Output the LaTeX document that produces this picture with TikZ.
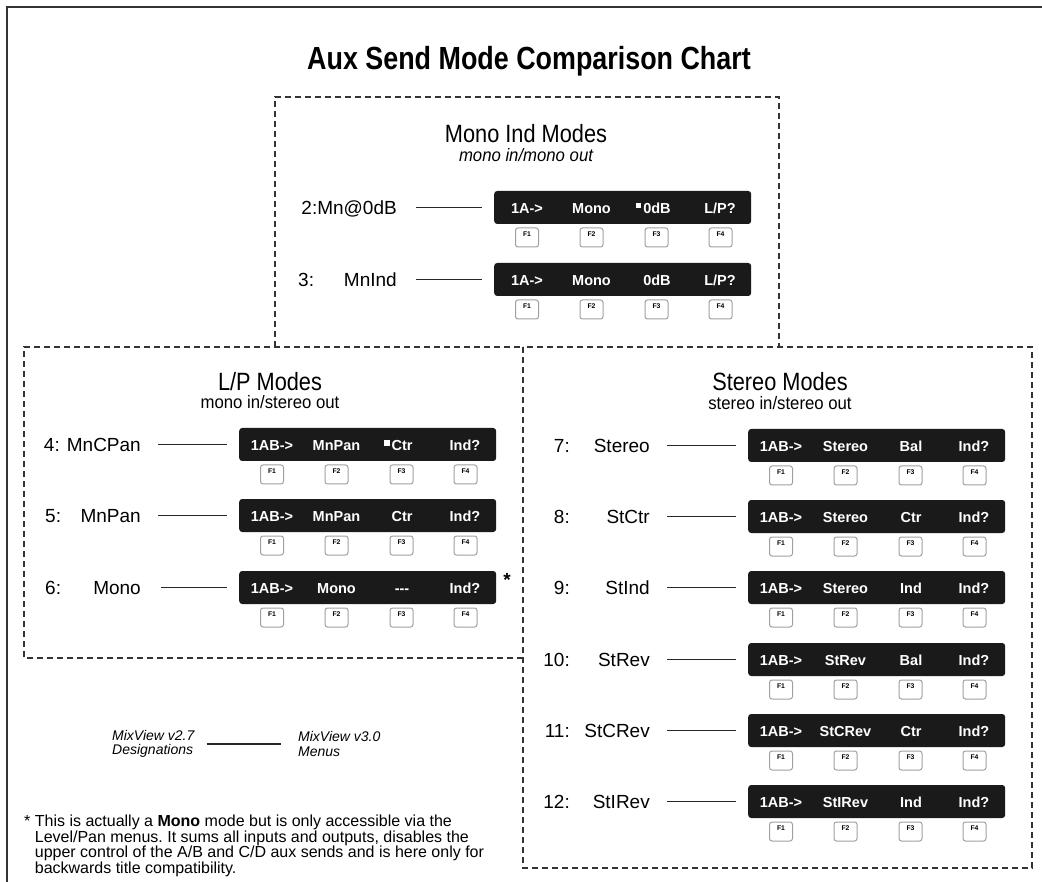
\documentclass[tikz,border=0pt]{standalone}
\usepackage{fontspec}
\setmainfont{Liberation Sans}
\newfontfamily\condfont[FakeStretch=0.87]{Liberation Sans}
\newfontfamily\subfont[FakeStretch=0.93]{Liberation Sans}
\newfontfamily\titlefont[FakeStretch=0.84]{Liberation Sans}
\definecolor{lcdblack}{HTML}{1A1A1A}
\definecolor{keygray}{HTML}{A0A0A0}
\definecolor{framegray}{HTML}{333333}
\tikzset{
  lcd/.style={fill=lcdblack, rounded corners=3pt, minimum width=257pt, minimum height=33pt, inner sep=0pt, anchor=west},
  lcdtxt/.style={text=white, font=\fontsize{14.5}{16}\selectfont\bfseries, inner sep=0pt, anchor=base},
  fkey/.style={draw=keygray, fill=white, rounded corners=2.5pt, line width=1pt, minimum width=23pt, minimum height=19pt, inner sep=0pt, text height=5pt, text depth=7.4pt, font=\fontsize{6.8}{7}\selectfont\bfseries},
  sqmark/.style={fill=white, minimum size=5.5pt, inner sep=0pt, anchor=north east},
  rowlab/.style={font=\fontsize{19}{22}\selectfont, inner sep=0pt},
  conn/.style={line width=1.1pt, draw=black!85},
  dashbox/.style={draw=framegray, line width=1.1pt, dash pattern=on 6pt off 4pt},
  secttl/.style={font=\condfont\fontsize{25}{28}\selectfont, inner sep=0pt, anchor=base},
  secsub/.style={font=\subfont\fontsize{18}{20}\selectfont, inner sep=0pt, anchor=base},
}
% #1 id, #2 bar left x, #3 row y, #4-#7 texts
\newcommand\lcdrow[7]{%
  \node[lcd] (#1) at (#2,{#3-0.5}) {};
  \node[lcdtxt] (#1a) at ({#2+33},{#3+5.2}) {#4};
  \node[lcdtxt] (#1b) at ({#2+97.5},{#3+5.2}) {#5};
  \node[lcdtxt] (#1c) at ({#2+163},{#3+5.2}) {#6};
  \node[lcdtxt] (#1d) at ({#2+226},{#3+5.2}) {#7};
  \node[fkey] (#1k1) at ({#2+33},{#3+29.5}) {F1};
  \node[fkey] (#1k2) at ({#2+97.5},{#3+29.5}) {F2};
  \node[fkey] (#1k3) at ({#2+162.5},{#3+29.5}) {F3};
  \node[fkey] (#1k4) at ({#2+226.5},{#3+29.5}) {F4};
}
\begin{document}
\begin{tikzpicture}[x=1pt,y=-1pt]
\useasboundingbox (0,0) rectangle (1042,882);
\fill[white] (0,0) rectangle (1042,882);
% page frame
\draw[framegray, line width=1.4pt] (7,882) -- (7,7) -- (1042,7);
% title
\node[font=\titlefont\bfseries\fontsize{32}{36}\selectfont, inner sep=0pt, anchor=base] (title) at (529,70) {Aux Send Mode Comparison Chart};

% boxes
\draw[dashbox] (275,347) -- (275,97) -- (779,97) -- (779,347);
\draw[dashbox] (523,658) -- (24,658) -- (24,347) -- (523,347);
\draw[dashbox] (523,347) rectangle (1032,868);

% ---------- Mono Ind ----------
\node[secttl] (tmono) at (526,143) {Mono Ind Modes};
\node[secsub] (smono) at (526,162) {\itshape mono in/mono out};

\lcdrow{r2}{494}{208}{1A->}{Mono}{0dB}{L/P?}
\node[sqmark] (q2) at ([xshift=-1.5pt]r2c.north west) {};
\node[rowlab, anchor=base east] (n2) at (397,214.8) {2:Mn@0dB};
\draw[conn, shorten <=19pt, shorten >=12pt] (n2.east |- r2.west) -- (r2.west);

\lcdrow{r3}{494}{280}{1A->}{Mono}{0dB}{L/P?}
\node[rowlab, anchor=base west] (m3) at (298,286.8) {3:};
\node[rowlab, anchor=base east] (n3) at (397,286.8) {MnInd};
\draw[conn, shorten <=19pt, shorten >=12pt] (n3.east |- r3.west) -- (r3.west);

% ---------- L/P ----------
\node[secttl] (tlp) at (270,391) {L/P Modes};
\node[secsub] (slp) at (270,409) {mono in/stereo out};

\lcdrow{r4}{239}{445}{1AB->}{MnPan}{Ctr}{Ind?}
\node[sqmark] (q4) at ([xshift=-1.5pt]r4c.north west) {};
\node[rowlab, anchor=base east] (n4) at (141,451.8) {4: MnCPan};
\draw[conn, shorten <=17pt, shorten >=12pt] (n4.east |- r4.west) -- (r4.west);

\lcdrow{r5}{239}{516}{1AB->}{MnPan}{Ctr}{Ind?}
\node[rowlab, anchor=base west] (m5) at (45,522.8) {5:};
\node[rowlab, anchor=base east] (n5) at (141,522.8) {MnPan};
\draw[conn, shorten <=17pt, shorten >=12pt] (n5.east |- r5.west) -- (r5.west);

\lcdrow{r6}{239}{588}{1AB->}{Mono}{-{}-{}-}{Ind?}
\node[rowlab, anchor=base west] (m6) at (45,594.8) {6:};
\node[rowlab, anchor=base east] (n6) at (141,594.8) {Mono};
\draw[conn, shorten <=20pt, shorten >=12pt] (n6.east |- r6.west) -- (r6.west);
\node[font=\fontsize{19}{22}\selectfont\bfseries, inner sep=0pt] (ast) at (507,580) {*};

% ---------- Stereo ----------
\node[secttl] (tst) at (780,391) {Stereo Modes};
\node[secsub] (sst) at (780,410) {stereo in/stereo out};

\lcdrow{r7}{748}{446}{1AB->}{Stereo}{Bal}{Ind?}
\node[rowlab, anchor=base east] (m7) at (570,452.8) {7:};
\node[rowlab, anchor=base east] (n7) at (650,452.8) {Stereo};
\draw[conn, shorten <=17pt, shorten >=12pt] (n7.east |- r7.west) -- (r7.west);

\lcdrow{r8}{748}{517}{1AB->}{Stereo}{Ctr}{Ind?}
\node[rowlab, anchor=base east] (m8) at (570,523.8) {8:};
\node[rowlab, anchor=base east] (n8) at (650,523.8) {StCtr};
\draw[conn, shorten <=17pt, shorten >=12pt] (n8.east |- r8.west) -- (r8.west);

\lcdrow{r9}{748}{588}{1AB->}{Stereo}{Ind}{Ind?}
\node[rowlab, anchor=base east] (m9) at (570,594.8) {9:};
\node[rowlab, anchor=base east] (n9) at (650,594.8) {StInd};
\draw[conn, shorten <=17pt, shorten >=12pt] (n9.east |- r9.west) -- (r9.west);

\lcdrow{r10}{748}{660}{1AB->}{StRev}{Bal}{Ind?}
\node[rowlab, anchor=base east] (m10) at (570,666.8) {10:};
\node[rowlab, anchor=base east] (n10) at (650,666.8) {StRev};
\draw[conn, shorten <=17pt, shorten >=12pt] (n10.east |- r10.west) -- (r10.west);

\lcdrow{r11}{748}{731}{1AB->}{StCRev}{Ctr}{Ind?}
\node[rowlab, anchor=base east] (m11) at (570,737.8) {11:};
\node[rowlab, anchor=base east] (n11) at (650,737.8) {StCRev};
\draw[conn, shorten <=17pt, shorten >=12pt] (n11.east |- r11.west) -- (r11.west);

\lcdrow{r12}{748}{802}{1AB->}{StIRev}{Ind}{Ind?}
\node[rowlab, anchor=base east] (m12) at (570,808.8) {12:};
\node[rowlab, anchor=base east] (n12) at (650,808.8) {StIRev};
\draw[conn, shorten <=17pt, shorten >=12pt] (n12.east |- r12.west) -- (r12.west);

% ---------- legend ----------
\node[font=\fontsize{14}{14.5}\selectfont\itshape, align=left, inner sep=0pt, anchor=west] (lg1) at (112,744) {MixView v2.7\\Designations};
\node[font=\fontsize{14}{14.5}\selectfont\itshape, align=left, inner sep=0pt, anchor=west] (lg2) at (298,744) {MixView v3.0\\Menus};
\draw[conn, shorten <=12pt, shorten >=17pt] (lg1.east) -- (lg2.west);

% ---------- footnote ----------
\node[font=\fontsize{16}{15.6}\selectfont\frenchspacing, align=left, inner sep=0pt, anchor=north west] (fn) at (24,815) {%
* This is actually a \textbf{Mono} mode but is only accessible via the\\
\hphantom{*\ }Level/Pan menus. It sums all inputs and outputs, disables the\\
\hphantom{*\ }upper control of the A/B and C/D aux sends and is here only for\\
\hphantom{*\ }backwards title compatibility.};
\end{tikzpicture}
\end{document}
